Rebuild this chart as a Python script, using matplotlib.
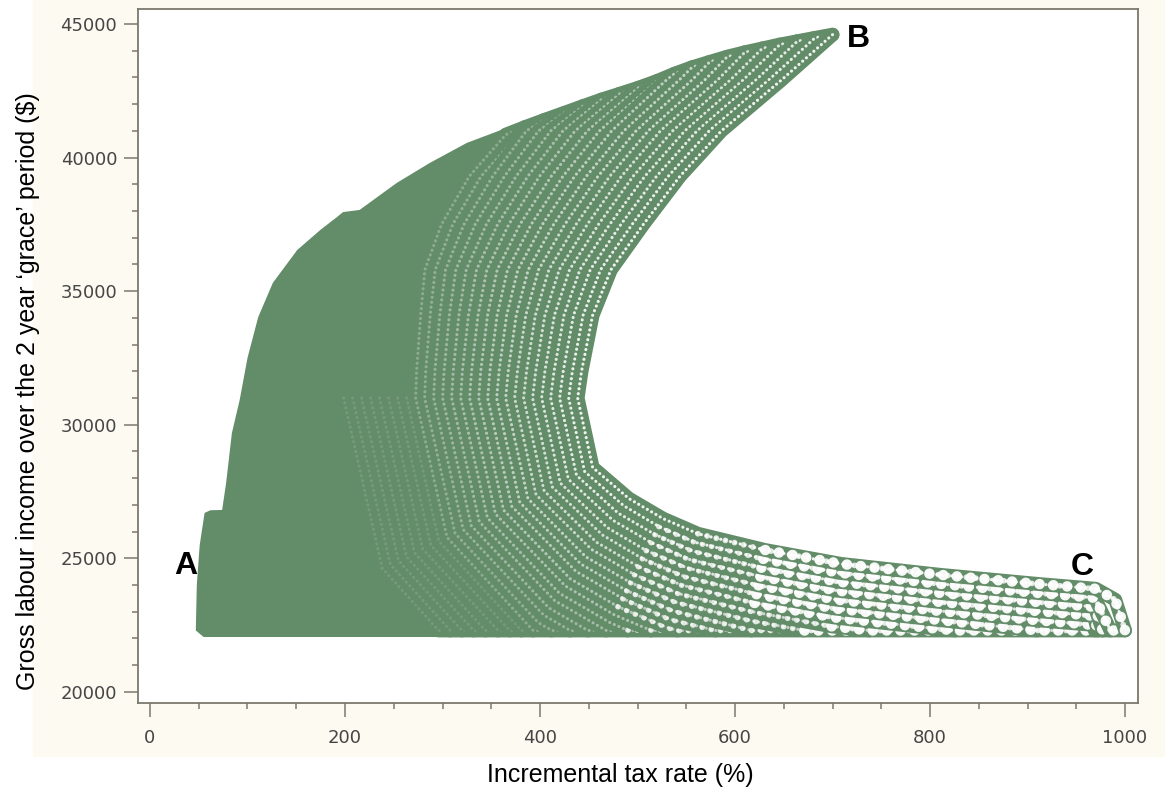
import matplotlib.pyplot as plt
from matplotlib.patches import Rectangle
from matplotlib.ticker import MultipleLocator

# bandes de points (de l'arc extérieur vers l'intérieur)
arc_x = [
    [700, 647.5, 586, 543.5, 506, 472.7, 454, 442.6, 438.6, 454, 491, 526, 562, 631, 709, 811, 911, 970, 990, 1000],
    [700, 682, 634.4, 573.5, 531.5, 494.5, 462.1, 444.2, 433.2, 429.4, 445.7, 486, 522, 559, 629, 708, 810, 910, 969, 985, 1000],
    [682, 664, 621.3, 561, 519.5, 483, 451.5, 434.4, 423.8, 420.1, 437.4, 480, 518, 556, 627, 706, 809, 910, 969, 977, 985],
    [664, 646, 608.2, 548.5, 507.5, 471.5, 440.9, 424.6, 414.4, 410.9, 429.1, 475, 514, 553, 626, 705, 808, 909, 968, 972, 977],
    [646, 628, 595.1, 536, 495.5, 460, 430.3, 414.8, 405, 401.7, 420.8, 469, 509, 551, 624, 704, 807, 908, 967, 969, 972],
    [628, 610, 582, 523.5, 483.5, 448.5, 419.7, 405, 395.6, 392.4, 412.5, 464, 505, 548, 622, 702, 806, 910, 969],
    [610, 592, 568.9, 511, 471.5, 437, 409.1, 395.2, 386.2, 383.2, 404.2, 458, 501, 545, 620, 701, 806, 826, 910],
    [592, 574, 555.8, 498.5, 459.5, 425.5, 398.5, 385.4, 376.8, 374, 395.9, 453, 497, 542, 618, 699, 738, 826],
    [574, 556, 542.7, 486, 447.5, 414, 387.9, 375.6, 367.4, 364.8, 387.6, 447, 493, 539, 616, 671, 738],
    [556, 538, 529.6, 473.5, 435.5, 402.5, 377.3, 365.8, 358, 355.5, 379.3, 442, 489, 536, 617, 671],
    [538, 520, 461, 423.5, 391, 366.7, 356, 348.6, 346.3, 371, 437, 485, 533, 580, 617],
    [520, 501, 448.5, 411.5, 379.5, 356.1, 346.2, 339.2, 337.1, 362.7, 431, 480, 531, 541, 580],
    [501, 482, 436, 399.5, 368, 345.5, 336.4, 329.8, 327.8, 354.4, 426, 476, 514, 541],
    [482, 463, 423.5, 387.5, 356.5, 334.9, 326.6, 320.4, 318.6, 346.1, 420, 472, 490, 514],
    [463, 444, 411, 375.5, 345, 324.3, 316.8, 311, 309.4, 337.8, 415, 468, 490],
    [444, 425, 398.5, 363.5, 333.5, 313.7, 307, 301.6, 300.1, 329.5, 409, 449, 468],
    [425, 405, 386, 351.5, 322, 303.1, 297.2, 292.2, 290.9, 321.2, 404, 431, 449],
    [405, 385, 339.5, 310.5, 292.5, 287.4, 282.8, 281.7, 312.9, 398, 412, 431],
    [385, 365, 327.5, 299, 281.9, 277.6, 273.4, 272.5, 304.6, 393, 412],
    [263.2, 296.3, 381, 393],
    [254, 288, 369, 381],
    [244.8, 279.7, 357, 369],
    [235.5, 271.4, 344, 357],
    [226.3, 263.1, 332, 344],
    [217, 254.8, 320, 332],
    [207.9, 246.5, 308, 320],
    [198.6, 238.2, 296, 308],
]
arc_y = [
    [44600, 42900, 41000, 39300, 37500, 35800, 34100, 32000, 31000, 28400, 27240, 26490, 25920, 25310, 24790, 24380, 24040, 23860, 23450, 22300],
    [44600, 44480, 42900, 41000, 39300, 37500, 35800, 34100, 32000, 31000, 28255, 26965, 26190, 25600, 24980, 24455, 24045, 23705, 23525, 22300, 22300],
    [44480, 44355, 42900, 41000, 39300, 37500, 35800, 34100, 32000, 31000, 28110, 26695, 25890, 25280, 24650, 24125, 23710, 23365, 23185, 22300, 22300],
    [44355, 44230, 42900, 41000, 39300, 37500, 35800, 34100, 32000, 31000, 27965, 26420, 25590, 24960, 24320, 23790, 23375, 23030, 22850, 22300, 22300],
    [44230, 44085, 42900, 41000, 39300, 37500, 35800, 34100, 32000, 31000, 27820, 26150, 25290, 24640, 23990, 23455, 23040, 22690, 22510, 22300, 22300],
    [44085, 43940, 42900, 41000, 39300, 37500, 35800, 34100, 32000, 31000, 27675, 25875, 24990, 24320, 23660, 23125, 22705, 22300, 22300],
    [43940, 43775, 42900, 41000, 39300, 37500, 35800, 34100, 32000, 31000, 27530, 25600, 24690, 24000, 23330, 22790, 22370, 22300, 22300],
    [43775, 43580, 42900, 41000, 39300, 37500, 35800, 34100, 32000, 31000, 27385, 25330, 24390, 23680, 23000, 22455, 22300, 22300],
    [43580, 43380, 42900, 41000, 39300, 37500, 35800, 34100, 32000, 31000, 27240, 25055, 24090, 23360, 22670, 22300, 22300],
    [43380, 43140, 42900, 41000, 39300, 37500, 35800, 34100, 32000, 31000, 27095, 24785, 23790, 23040, 22300, 22300],
    [43140, 42865, 41000, 39300, 37500, 35800, 34100, 32000, 31000, 26950, 24510, 23490, 22720, 22300, 22300],
    [42865, 42615, 41000, 39300, 37500, 35800, 34100, 32000, 31000, 26805, 24235, 23190, 22400, 22300, 22300],
    [42615, 42390, 41000, 39300, 37500, 35800, 34100, 32000, 31000, 26660, 23965, 22890, 22300, 22300],
    [42390, 42170, 41000, 39300, 37500, 35800, 34100, 32000, 31000, 26515, 23690, 22590, 22300, 22300],
    [42170, 41925, 41000, 39300, 37500, 35800, 34100, 32000, 31000, 26370, 23420, 22300, 22300],
    [41925, 41675, 41000, 39300, 37500, 35800, 34100, 32000, 31000, 26225, 23145, 22300, 22300],
    [41675, 41415, 41000, 39300, 37500, 35800, 34100, 32000, 31000, 26080, 22870, 22300, 22300],
    [41415, 41145, 39300, 37500, 35800, 34100, 32000, 31000, 25935, 22600, 22300, 22300],
    [41145, 40860, 39300, 37500, 35800, 34100, 32000, 31000, 25790, 22300, 22300],
    [31000, 25645, 22300, 22300],
    [31000, 25500, 22300, 22300],
    [31000, 25355, 22300, 22300],
    [31000, 25210, 22300, 22300],
    [31000, 25065, 22300, 22300],
    [31000, 24920, 22300, 22300],
    [31000, 24775, 22300, 22300],
    [31000, 24630, 22300, 22300],
]

# zone pleine à gauche (contour)
dense_x = [55, 47, 48, 51, 56, 62, 74, 78, 84, 92, 100, 111, 126, 151, 175, 192, 198, 215,
           253, 287, 325, 365, 327.5, 299, 281.9, 277.6, 273.4, 272.5, 238.2, 296, 296]
dense_y = [22055, 22300, 24000, 25500, 26700, 26800, 26810, 27800, 29690, 30930, 32500, 34030,
           35310, 36540, 37300, 37780, 37960, 38040, 39050, 39800, 40550, 41100, 39300, 37500,
           35800, 34100, 32000, 31000, 24630, 22300, 22055]

letters = ['A', 'B', 'C']
letter_x = [37, 727, 956]
letter_y = [24716, 44439, 24678]

green = '#638c68'
grey = '#7d786c'

fig = plt.figure(figsize=(11.65, 7.98), dpi=100)
fig.patches.append(Rectangle((33 / 1165, 42 / 798), 1, 1, transform=fig.transFigure,
                             color='#fdfaf2', zorder=-10))
ax = fig.add_axes([138 / 1165, 95 / 798, 1000 / 1165, 694 / 798])
ax.set_zorder(1)
ax.set_facecolor('white')

ax.fill(dense_x, dense_y, color=green, lw=0, zorder=1)

# de l'intérieur vers l'extérieur
for k in range(len(arc_x) - 1, -1, -1):
    xs, ys = arc_x[k], arc_y[k]
    ax.plot(xs, ys, color=green, lw=10, solid_capstyle='round',
            solid_joinstyle='round', zorder=2)
    a = max(0.9 - 0.035 * k, 0.2) if k < 19 else 0.12
    ax.plot(xs, ys, color='white', lw=2.3, ls=(0, (0.01, 1.55)),
            dash_capstyle='round', alpha=a, zorder=2)
    # queue du bas : cercles plus espacés
    idx = [i for i in range(len(xs)) if xs[i] >= 480 and ys[i] <= 26200]
    if len(idx) > 1:
        i0 = idx[0]
        ax.plot(xs[i0:], ys[i0:], color='white', lw=4.2, ls=(0, (0.01, 1.6)),
                dash_capstyle='round', alpha=0.8, zorder=2)
    idx = [i for i in range(len(xs)) if xs[i] >= 620 and ys[i] <= 25500]
    if len(idx) > 1:
        i0 = idx[0]
        ax.plot(xs[i0:], ys[i0:], color='white', lw=7.6, ls=(0, (0.01, 1.3)),
                dash_capstyle='round', alpha=0.95, zorder=2)

for t, x, y in zip(letters, letter_x, letter_y):
    ax.text(x, y, t, ha='center', va='center', fontsize=23, fontweight='bold',
            family='Liberation Sans', zorder=3)

ax.set_xlim(-12.3, 1013.3)
ax.set_ylim(19585, 45561)
ax.xaxis.set_major_locator(MultipleLocator(200))
ax.xaxis.set_minor_locator(MultipleLocator(50))
ax.yaxis.set_major_locator(MultipleLocator(5000))
ax.yaxis.set_minor_locator(MultipleLocator(1000))
ax.tick_params(which='both', direction='out', color=grey, width=1.1,
               labelsize=13, labelcolor='#454545')
ax.tick_params(which='major', length=10)
ax.tick_params(which='minor', length=4)
ax.tick_params(axis='x', pad=9)
ax.tick_params(axis='y', pad=5)
for s in ax.spines.values():
    s.set_color(grey)
    s.set_linewidth(1.3)

fig.text(620 / 1165, 23 / 798, 'Incremental tax rate (%)', ha='center', va='center',
         fontsize=18, family='Liberation Sans')
fig.text(28 / 1165, 0.51, 'Gross labour income over the 2 year \u2018grace\u2019 period ($)',
         ha='center', va='center', rotation=90, fontsize=18, family='Liberation Sans')

fig.savefig('out.png', dpi=100)
